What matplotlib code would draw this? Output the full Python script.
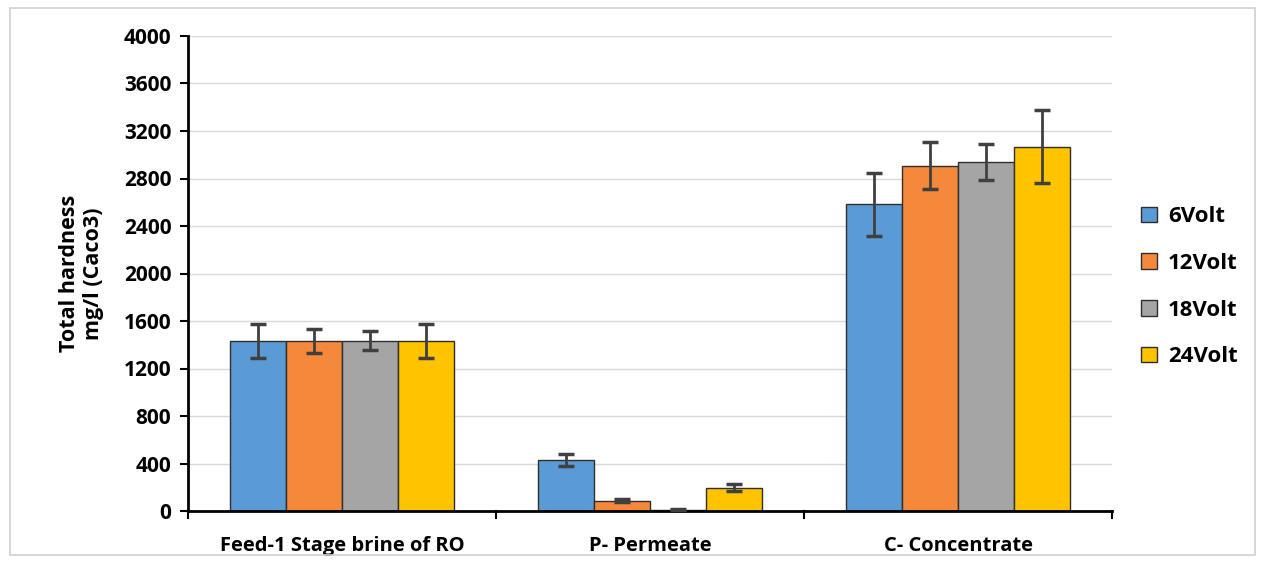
import numpy as np
import matplotlib.pyplot as plt
from matplotlib.patches import Rectangle

plt.rcParams['font.family'] = ['Open Sans', 'DejaVu Sans']
plt.rcParams['font.weight'] = 'bold'

# --- dados ---
categorias = ['Feed-1 Stage brine of RO', 'P- Permeate', 'C- Concentrate']
series = ['6Volt', '12Volt', '18Volt', '24Volt']
cores = ['#5B9BD5', '#F5883A', '#A5A5A5', '#FFC300']

v6 = [1432, 430, 2582]
v12 = [1432, 88, 2908]
v18 = [1432, 10, 2939]
v24 = [1432, 196, 3068]

e6 = [145, 50, 265]
e12 = [100, 15, 200]
e18 = [80, 8, 150]
e24 = [145, 28, 310]

valores = [v6, v12, v18, v24]
erros = [e6, e12, e18, e24]

# --- figura ---
fig = plt.figure(figsize=(12.63, 5.63), dpi=100)
ax = fig.add_axes([188 / 1263, 1 - 511 / 563, 924 / 1263, 475 / 563])

x = np.arange(len(categorias))
largura = 0.182
desloc = (np.arange(len(series)) - 1.5) * largura

for i, s in enumerate(series):
    ax.bar(x + desloc[i], valores[i], largura, color=cores[i],
           edgecolor='#2e2e2e', linewidth=1.0, label=s, zorder=2)
    ax.errorbar(x + desloc[i], valores[i], yerr=erros[i], fmt='none',
                ecolor='#404040', elinewidth=2, capsize=6, capthick=2.5, zorder=3)

ax.set_xlim(-0.5, 2.5)
ax.set_ylim(0, 4000)
ax.set_yticks(np.arange(0, 4001, 400))
ax.tick_params(axis='y', labelsize=15, length=6, width=1.5, direction='out', pad=6)
ax.set_xticks(x)
ax.set_xticklabels(categorias, fontsize=14.5, fontweight='bold')
for t in ax.get_yticklabels():
    t.set_fontweight('bold')
ax.tick_params(axis='x', length=0, pad=18)
# marcas entre categorias
for b in [-0.5, 0.5, 1.5, 2.5]:
    ax.plot([b, b], [0, -55], color='black', lw=1.5, clip_on=False, zorder=4)

ax.grid(axis='y', color='#d9d9d9', lw=1)
ax.set_axisbelow(True)
for sp in ['top', 'right']:
    ax.spines[sp].set_visible(False)
ax.spines['left'].set_linewidth(2)
ax.spines['bottom'].set_linewidth(2)

ax.set_ylabel('Total hardness\nmg/l (Caco3)', fontsize=15.5, fontweight='bold', labelpad=14)

leg = ax.legend(loc='center left', bbox_to_anchor=(1.01, 0.472), frameon=False,
                prop={'size': 16, 'weight': 'bold'}, labelspacing=1.15,
                handlelength=0.7, handleheight=0.7, handletextpad=0.5)

# moldura externa
fig.patches.append(Rectangle((10 / 1263, 8 / 563), 1245 / 1263, 547 / 563,
                             transform=fig.transFigure, fill=False,
                             edgecolor='#d0d0d0', lw=1.2))

fig.savefig('out.png', dpi=100)
